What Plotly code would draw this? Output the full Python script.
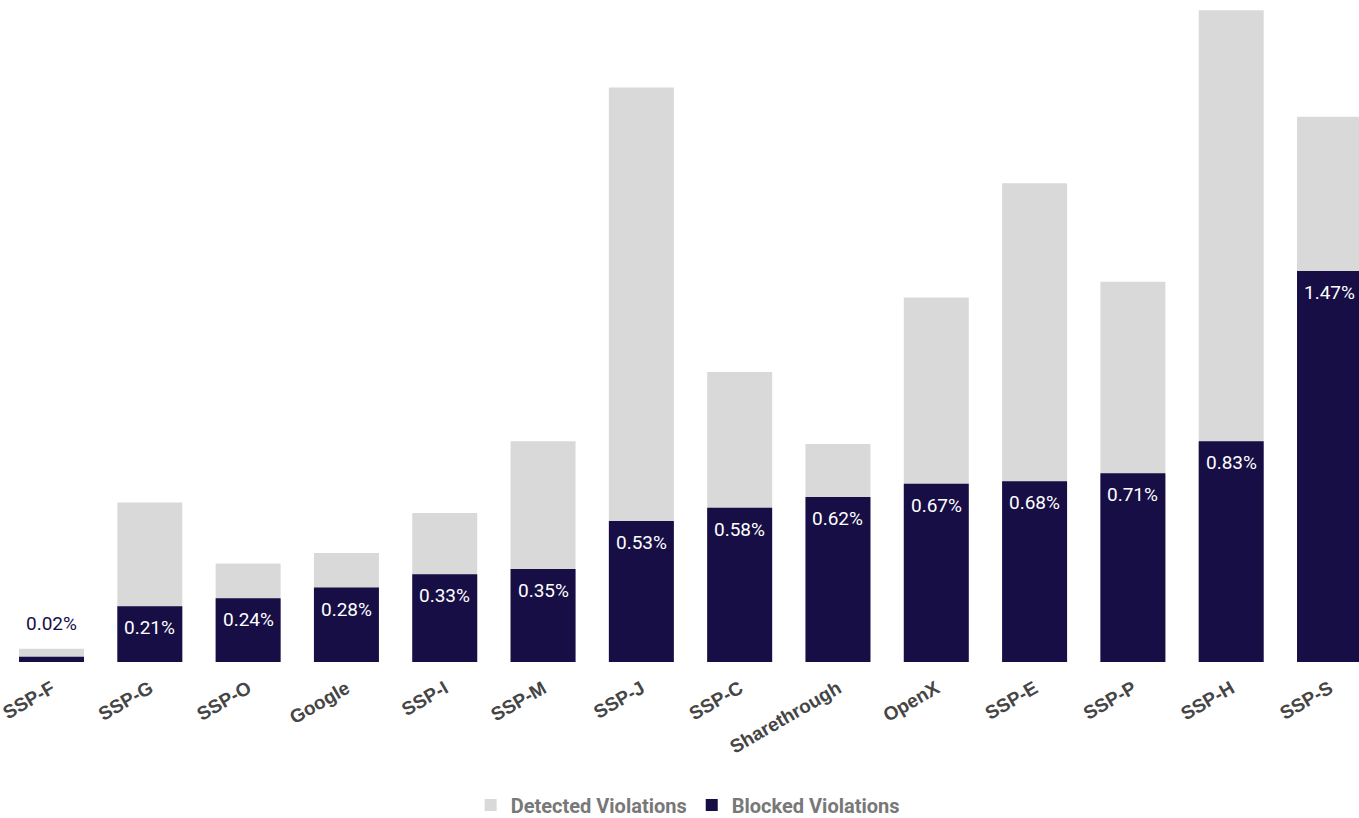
import plotly.graph_objects as go

# Violation rates per supply-side platform (percent)
platforms = ["SSP-F", "SSP-G", "SSP-O", "Google", "SSP-I", "SSP-M", "SSP-J",
             "SSP-C", "Sharethrough", "OpenX", "SSP-E", "SSP-P", "SSP-H", "SSP-S"]
detected = [0.05, 0.60, 0.37, 0.41, 0.56, 0.83, 2.16,
            1.09, 0.82, 1.37, 1.80, 1.43, 2.45, 2.05]
blocked = [0.02, 0.21, 0.24, 0.28, 0.33, 0.35, 0.53,
           0.58, 0.62, 0.67, 0.68, 0.71, 0.83, 1.47]

NAVY = "#160e45"
GRAY = "#d9d9d9"
FONT = "Roboto"

fig = go.Figure()
fig.add_trace(go.Bar(x=platforms, y=detected, name="Detected Violations",
                     marker=dict(color=GRAY, line=dict(width=0)),
                     hoverinfo="skip"))
fig.add_trace(go.Bar(x=platforms, y=blocked, name="Blocked Violations",
                     marker=dict(color=NAVY, line=dict(width=0)),
                     hoverinfo="skip"))

# Value labels: inside the top of each blocked bar, above the bar when it is too short
annotations = []
for name, b, d in zip(platforms, blocked, detected):
    label = f"{b:.2f}%"
    if b < 0.1:
        annotations.append(dict(x=name, y=max(b, d), text=label, showarrow=False,
                                yanchor="bottom", yshift=12,
                                font=dict(family=FONT, size=19, color=NAVY)))
    else:
        annotations.append(dict(x=name, y=b, text=label, showarrow=False,
                                yanchor="top", yshift=-8,
                                font=dict(family=FONT, size=19, color="white")))

fig.update_layout(
    width=1359, height=818,
    margin=dict(l=0, r=0, t=0, b=156, autoexpand=False),
    barmode="overlay",
    bargap=0.339,
    plot_bgcolor="white",
    paper_bgcolor="white",
    showlegend=True,
    legend=dict(orientation="h", x=0.506, xanchor="center",
                yref="container", y=0.016, yanchor="middle",
                font=dict(family=FONT, size=20, color="#787878", weight="bold"),
                itemwidth=30, traceorder="normal"),
    annotations=annotations,
    xaxis=dict(range=[-0.524, 13.30], tickangle=-30, showgrid=False, zeroline=False,
               showline=False, ticks="", automargin=False, ticklabelstandoff=11,
               tickfont=dict(family="Liberation Sans", size=19, color="#454545",
                             weight="bold")),
    yaxis=dict(range=[0, 2.489], visible=False, automargin=False),
)

fig.write_html("out.html")
